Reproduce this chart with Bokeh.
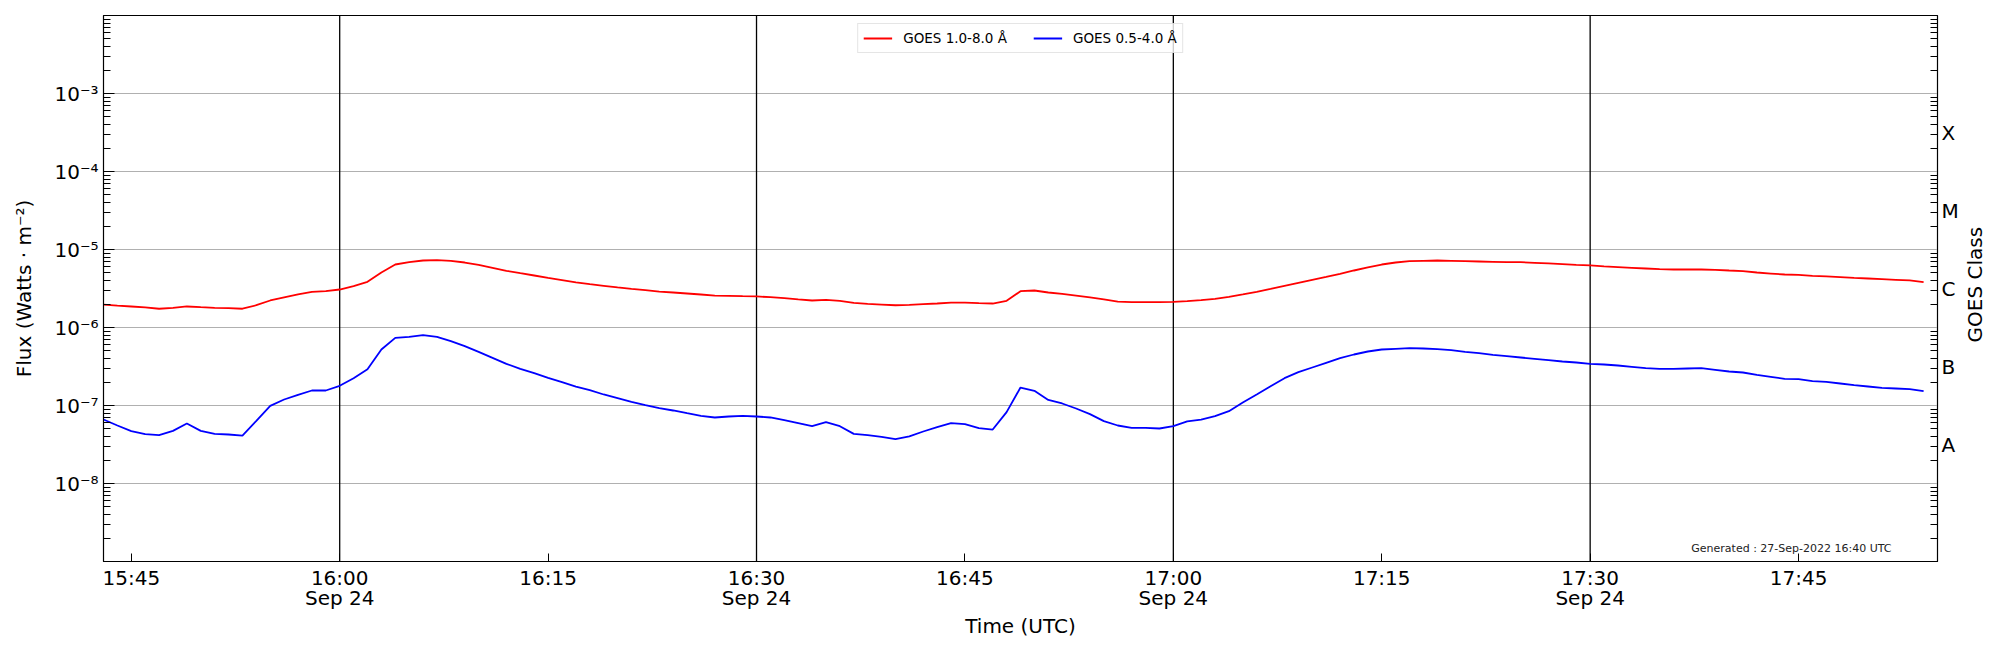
import math
from datetime import datetime, timedelta

from bokeh.plotting import figure
from bokeh.layouts import row
from bokeh.models import (LogAxis, FixedTicker, Range1d, Span, Label, Legend)
from bokeh.core.properties import value
from bokeh.embed import file_html
from bokeh.resources import INLINE

# ---------------- data ----------------
start_time = datetime(2022, 9, 24, 15, 43)
end_time = datetime(2022, 9, 24, 17, 55)
n_points = 132  # one sample per minute, 15:43 .. 17:54

# GOES 1.0-8.0 A flux, units of 1e-6 W m^-2
xrsb_e6 = [
    1.97, 1.91, 1.86, 1.81, 1.74, 1.79, 1.86, 1.82, 1.79, 1.77,
    1.74, 1.93, 2.22, 2.43, 2.65, 2.87, 2.92, 3.07, 3.39, 3.85,
    5.07, 6.42, 6.88, 7.23, 7.30, 7.16, 6.81, 6.36, 5.82, 5.33,
    4.97, 4.64, 4.33, 4.05, 3.78, 3.59, 3.42, 3.26, 3.13, 3.01,
    2.89, 2.81, 2.73, 2.65, 2.57, 2.55, 2.52, 2.50, 2.45, 2.38,
    2.29, 2.22, 2.26, 2.20, 2.07, 2.01, 1.97, 1.93, 1.95, 1.99,
    2.03, 2.09, 2.09, 2.05, 2.03, 2.20, 2.92, 2.98, 2.81, 2.70,
    2.57, 2.43, 2.29, 2.15, 2.11, 2.11, 2.11, 2.13, 2.18, 2.24,
    2.33, 2.47, 2.65, 2.87, 3.13, 3.42, 3.74, 4.09, 4.46, 4.88,
    5.38, 5.88, 6.42, 6.81, 7.09, 7.16, 7.23, 7.16, 7.09, 7.02,
    6.95, 6.88, 6.88, 6.75, 6.62, 6.49, 6.36, 6.24, 6.06, 5.94,
    5.82, 5.71, 5.60, 5.54, 5.54, 5.54, 5.49, 5.38, 5.28, 5.07,
    4.92, 4.78, 4.73, 4.60, 4.51, 4.42, 4.33, 4.25, 4.17, 4.09,
    4.01, 3.81,
]

# GOES 0.5-4.0 A flux, units of 1e-7 W m^-2
xrsa_e7 = [
    0.661, 0.554, 0.469, 0.429, 0.417, 0.473, 0.588, 0.473, 0.433, 0.425,
    0.412, 0.636, 0.990, 1.194, 1.370, 1.557, 1.557, 1.787, 2.241, 2.923,
    5.224, 7.372, 7.593, 7.975, 7.593, 6.679, 5.765, 4.876, 4.085, 3.421,
    2.952, 2.597, 2.263, 1.991, 1.750, 1.573, 1.384, 1.242, 1.114, 1.010,
    0.924, 0.863, 0.797, 0.737, 0.702, 0.723, 0.737, 0.723, 0.702, 0.649,
    0.594, 0.543, 0.611, 0.543, 0.433, 0.417, 0.397, 0.370, 0.401, 0.464,
    0.528, 0.594, 0.576, 0.512, 0.492, 0.821, 1.701, 1.542, 1.180, 1.061,
    0.915, 0.774, 0.630, 0.554, 0.517, 0.517, 0.507, 0.543, 0.624, 0.661,
    0.730, 0.846, 1.093, 1.384, 1.770, 2.241, 2.676, 3.070, 3.524, 4.045,
    4.507, 4.924, 5.224, 5.328, 5.433, 5.381, 5.276, 5.122, 4.876, 4.688,
    4.463, 4.291, 4.125, 3.965, 3.812, 3.665, 3.559, 3.421, 3.355, 3.257,
    3.131, 3.010, 2.952, 2.952, 2.981, 3.010, 2.866, 2.729, 2.649, 2.473,
    2.331, 2.197, 2.176, 2.051, 2.011, 1.914, 1.823, 1.753, 1.685, 1.652,
    1.620, 1.527,
]

series_labels = ["GOES 1.0-8.0 Å", "GOES 0.5-4.0 Å"]
series_colors = ["#ff0000", "#0000ff"]

y_decades = [-8, -7, -6, -5, -4, -3]
y_tick_labels = ["10⁻⁸", "10⁻⁷", "10⁻⁶", "10⁻⁵", "10⁻⁴", "10⁻³"]
goes_class_exponents = [-7.5, -6.5, -5.5, -4.5, -3.5]
goes_class_labels = ["A", "B", "C", "M", "X"]
right_title = "GOES Class"

x_tick_times = ["15:45", "16:00", "16:15", "16:30", "16:45", "17:00",
                "17:15", "17:30", "17:45"]
date_label = "Sep 24"
vline_times = ["16:00", "16:30", "17:00", "17:30"]
generated_text = "Generated : 27-Sep-2022 16:40 UTC"

# ---------------- helpers ----------------
EPOCH = datetime(1970, 1, 1)


def to_ms(dt):
    return (dt - EPOCH).total_seconds() * 1000.0


def hm_to_dt(s):
    h, m = s.split(":")
    return datetime(2022, 9, 24, int(h), int(m))


times = [start_time + timedelta(minutes=i) for i in range(n_points)]
xrsb = [v * 1e-6 for v in xrsb_e6]
xrsa = [v * 1e-7 for v in xrsa_e7]

FONT = "DejaVu Sans"

BL, BR, BT, BB = 103, 26, 15, 84
W, H = 1963, 645
W2 = 27
FRAME_W = W - BL - BR
FRAME_H = H - BT - BB

p = figure(
    width=W, height=H,
    x_axis_type="datetime", y_axis_type="log",
    x_range=Range1d(start_time, end_time),
    y_range=Range1d(1e-9, 1e-2),
    output_backend="svg", toolbar_location=None,
    min_border_left=BL, min_border_right=BR,
    min_border_top=BT, min_border_bottom=BB,
)
p.outline_line_color = "black"
p.outline_line_width = 1.2
p.background_fill_color = "white"

# ---- grid ----
p.xgrid.visible = False
p.ygrid.ticker = FixedTicker(ticks=[10.0 ** e for e in y_decades])
p.ygrid.grid_line_color = "#b0b0b0"
p.ygrid.grid_line_width = 1.1

# ---- vertical lines ----
for t in vline_times:
    p.add_layout(Span(location=to_ms(hm_to_dt(t)), dimension="height",
                      line_color="black", line_width=1.3, level="underlay"))

# ---- curves ----
r1 = p.line(times, xrsb, line_color=series_colors[0], line_width=1.8)
r2 = p.line(times, xrsa, line_color=series_colors[1], line_width=1.8)

legend = Legend(items=[(series_labels[0], [r1]), (series_labels[1], [r2])])
legend.location = "top_center"
legend.orientation = "horizontal"
legend.margin = 8
legend.padding = 5
legend.spacing = 26
legend.label_standoff = 11
legend.glyph_width = 29
legend.glyph_height = 18
legend.label_height = 18
legend.label_text_font = FONT
legend.label_text_font_size = "13.5px"
legend.label_text_color = "black"
legend.border_line_color = "#cccccc"
legend.border_line_width = 1
legend.background_fill_alpha = 0.8
p.add_layout(legend)

# ---- x axis ----
xa = p.xaxis[0]
x_ticks = [to_ms(hm_to_dt(t)) for t in x_tick_times]
xa.ticker = FixedTicker(ticks=x_ticks)
overrides = {}
for t, ms in zip(x_tick_times, x_ticks):
    if t.endswith(":00") or t.endswith(":30"):
        overrides[ms] = t + "\n" + date_label
    else:
        overrides[ms] = t
xa.major_label_overrides = overrides
xa.major_tick_in = 8
xa.major_tick_out = 0
xa.minor_tick_in = 0
xa.minor_tick_out = 0
xa.major_label_standoff = 4
xa.major_label_text_font = FONT
xa.major_label_text_font_size = "20px"
xa.major_label_text_color = "black"
xa.major_label_text_line_height = 0.85
xa.axis_label = "Time (UTC)"
xa.axis_label_text_font = FONT
xa.axis_label_text_font_size = "20px"
xa.axis_label_text_font_style = "normal"
xa.axis_label_text_color = "black"
xa.axis_label_standoff = 1
xa.axis_line_color = "black"
xa.major_tick_line_color = "black"

# ---- left y axis ----
minor = []
for e in range(-9, -2):
    for k in range(2, 10):
        minor.append(k * 10.0 ** e)
ya = p.yaxis[0]
left_ticks = [10.0 ** e for e in y_decades]
ya.ticker = FixedTicker(ticks=left_ticks, minor_ticks=minor)
ya.major_label_overrides = {v: s for v, s in zip(left_ticks, y_tick_labels)}
ya.major_tick_in = 11
ya.major_tick_out = 0
ya.minor_tick_in = 7
ya.minor_tick_out = 0
ya.major_label_standoff = 5
ya.major_label_text_font = FONT
ya.major_label_text_font_size = "20px"
ya.major_label_text_color = "black"
ya.axis_label = "Flux (Watts · m⁻²)"
ya.axis_label_text_font = FONT
ya.axis_label_text_font_size = "20px"
ya.axis_label_text_font_style = "normal"
ya.axis_label_text_color = "black"
ya.axis_label_standoff = 15
ya.axis_line_color = "black"

# ---- right y axis (GOES class) ----
class_ticks = [10.0 ** e for e in goes_class_exponents]
ra = LogAxis(ticker=FixedTicker(ticks=class_ticks, minor_ticks=minor))
ra.major_label_overrides = {v: s for v, s in zip(class_ticks, goes_class_labels)}
ra.major_tick_in = 0
ra.major_tick_out = 0
ra.minor_tick_in = 7
ra.minor_tick_out = 0
ra.major_label_standoff = 4
ra.major_label_text_font = FONT
ra.major_label_text_font_size = "20px"
ra.major_label_text_color = "black"
ra.axis_line_color = "black"
p.add_layout(ra, "right")

# ---- generated stamp ----
p.add_layout(Label(x=FRAME_W - 46, y=13, x_units="screen", y_units="screen",
                   text=generated_text, text_align="right",
                   text_baseline="alphabetic", text_font=FONT,
                   text_font_size="11px", text_color="#222222"))

# ---- narrow strip holding the right-hand axis title (reads bottom to top) ----
p2 = figure(width=W2, height=H, x_range=Range1d(0, 1), y_range=Range1d(0, 1),
            output_backend="svg", toolbar_location=None,
            min_border_left=0, min_border_right=0,
            min_border_top=0, min_border_bottom=0)
p2.axis.visible = False
p2.grid.visible = False
p2.outline_line_color = None
p2.text(x=[0.43], y=[1 - 318.0 / H], text=[right_title], angle=math.pi / 2,
        text_align="center", text_baseline="middle",
        text_font=value(FONT), text_font_size="20px", text_color="black")

layout = row(p, p2, spacing=0)
open("out.html", "w").write(file_html(layout, INLINE))
